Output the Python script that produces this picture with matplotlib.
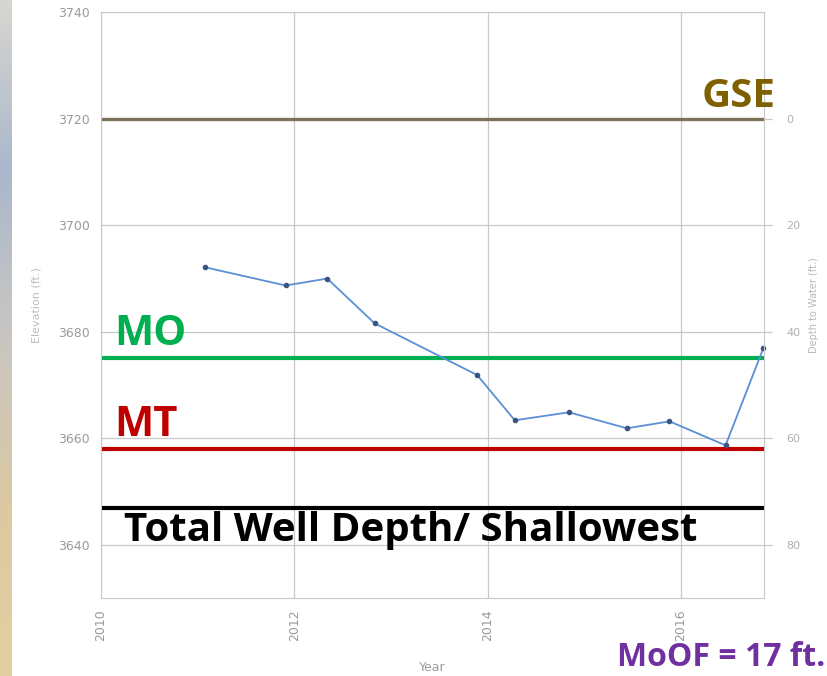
import matplotlib.pyplot as plt
import numpy as np
from matplotlib.colors import LinearSegmentedColormap

# well hydrograph data
years = [2011.08, 2011.91, 2012.34, 2012.83, 2013.89, 2014.28,
         2014.84, 2015.44, 2015.88, 2016.46, 2016.85]
elev = [3692.1, 3688.7, 3690.0, 3681.6, 3671.9, 3663.4,
        3664.9, 3661.9, 3663.2, 3658.7, 3676.9]

gse = 3720
mo = 3675
mt = 3658
well_depth = 3647

x_ticks = [2010, 2012, 2014, 2016]
y_ticks = [3640, 3660, 3680, 3700, 3720, 3740]
depth_ticks = [0, 20, 40, 60, 80]

fig = plt.figure(figsize=(8.28, 6.76), dpi=100)
fig.patch.set_facecolor('white')

# the slide background strip on the far left
bg = fig.add_axes([0, 0, 0.014, 1])
grad = np.linspace(0, 1, 256).reshape(-1, 1)
cm = LinearSegmentedColormap.from_list('bg', ['#e2cfa0', '#dcc9a2', '#c9c6c2', '#aab8cc', '#d8d6d0'])
bg.imshow(grad, aspect='auto', cmap=cm, origin='lower')
bg.axis('off')

ax = fig.add_axes([0.122, 0.115, 0.801, 0.867])
ax.set_xlim(2010, 2016.86)
ax.set_ylim(3630, 3740)

grid_c = '#c8c8c8'
for s in ax.spines.values():
    s.set_color(grid_c)
ax.grid(True, color=grid_c, lw=0.9)
ax.set_axisbelow(True)
ax.set_xticks(x_ticks)
ax.set_xticklabels([str(x) for x in x_ticks], rotation=90)
ax.set_yticks(y_ticks)
ax.tick_params(colors='#9a9a9a', labelsize=9, length=0, pad=8)
ax.set_xlabel('Year', color='#9a9a9a', fontsize=9, labelpad=14)
ax.set_ylabel('Elevation (ft.)', color='#bdbdbd', fontsize=8, labelpad=12)

ax2 = ax.twinx()
ax2.set_ylim(gse - 3630, gse - 3740)
ax2.set_yticks(depth_ticks)
ax2.tick_params(colors='#b0b0b0', labelsize=8, length=6, width=0.9, pad=10)
for s in ax2.spines.values():
    s.set_visible(False)
ax2.tick_params(axis='y', color=grid_c)
ax2.set_ylabel('Depth to Water (ft.)', color='#b8b8b8', fontsize=7, labelpad=6)

# reference lines
ax.axhline(gse, color='#7d7258', lw=2.4)
ax.axhline(mo, color='#00b050', lw=3)
ax.axhline(mt, color='#c00000', lw=3)
ax.axhline(well_depth, color='black', lw=3)

ax.plot(years, elev, color='#5b8fd6', lw=1.3, marker='o', ms=3,
        mfc='#3c5480', mec='#3c5480', clip_on=False)

fnt = 'Open Sans'
ax.text(2016.98, gse + 0.5, 'GSE', color='#7f6000', fontsize=29, fontweight='bold',
        family=fnt, ha='right', va='bottom', clip_on=False)
ax.text(2010.14, mo + 0.6, 'MO', color='#00b050', fontsize=30, fontweight='bold',
        family=fnt, ha='left', va='bottom')
ax.text(2010.14, mt + 0.6, 'MT', color='#c00000', fontsize=30, fontweight='bold',
        family=fnt, ha='left', va='bottom')
ax.text(2010.24, well_depth - 0.6, 'Total Well Depth/ Shallowest', color='black',
        fontsize=29, fontweight='bold', family=fnt, ha='left', va='top')
fig.text(0.997, 0.003, 'MoOF = 17 ft.', color='#7030a0', fontsize=23,
         fontweight='bold', family=fnt, ha='right', va='bottom')

fig.savefig('out.png', dpi=100)
